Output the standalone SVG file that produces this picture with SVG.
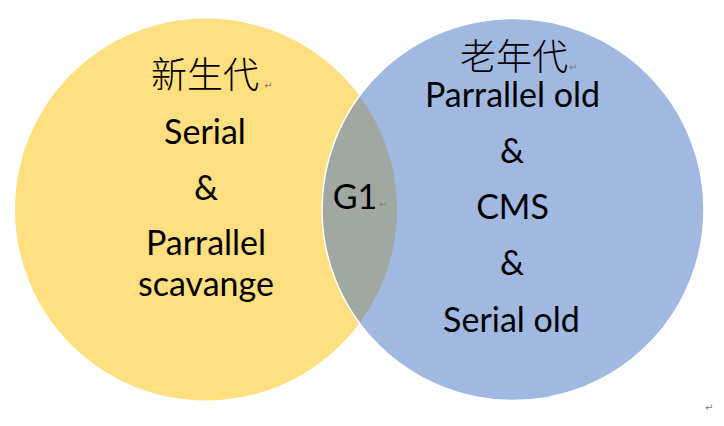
<svg xmlns="http://www.w3.org/2000/svg" width="724" height="426" viewBox="0 0 724 426">
<style>
.lat{font-family:Lato,"Noto Sans","Liberation Sans",sans-serif;font-size:34px;fill:#000;text-anchor:middle}
.cjk{font-family:"Noto Sans CJK SC","Noto Sans CJK JP",sans-serif;font-size:36px;fill:#000;text-anchor:middle;font-weight:300}
.mk{font-family:"DejaVu Sans",sans-serif;font-size:10px;fill:#808080}
</style>
<rect width="724" height="426" fill="#ffffff"/>
<g id="young">
<circle cx="206" cy="209.5" r="191" fill="#FFC000" fill-opacity="0.5"/>
</g>
<g id="old">
<circle cx="513" cy="209.5" r="191" fill="#4472C4" fill-opacity="0.5" stroke="#ffffff" stroke-width="1.5"/>
</g>
<g id="young-text">
<text class="cjk" x="205" y="88">新生代</text>
<text class="mk" x="264" y="89">↵</text>
<text class="lat" x="205" y="144">Serial</text>
<text class="lat" x="206" y="200">&amp;</text>
<text class="lat" x="206" y="255">Parrallel</text>
<text class="lat" x="206" y="296">scavange</text>
</g>
<g id="g1">
<text class="lat" x="355" y="209">G1</text>
<text class="mk" x="379" y="208">↵</text>
</g>
<g id="old-text">
<text class="cjk" x="514" y="70">老年代</text>
<text class="mk" x="569" y="71">↵</text>
<text class="lat" x="512.5" y="107">Parrallel old</text>
<text class="lat" x="512" y="163">&amp;</text>
<text class="lat" x="512.5" y="219">CMS</text>
<text class="lat" x="512" y="275">&amp;</text>
<text class="lat" x="511.5" y="332">Serial old</text>
</g>
<text class="mk" x="705" y="411">↵</text>
<g id="connectors"/>
</svg>
